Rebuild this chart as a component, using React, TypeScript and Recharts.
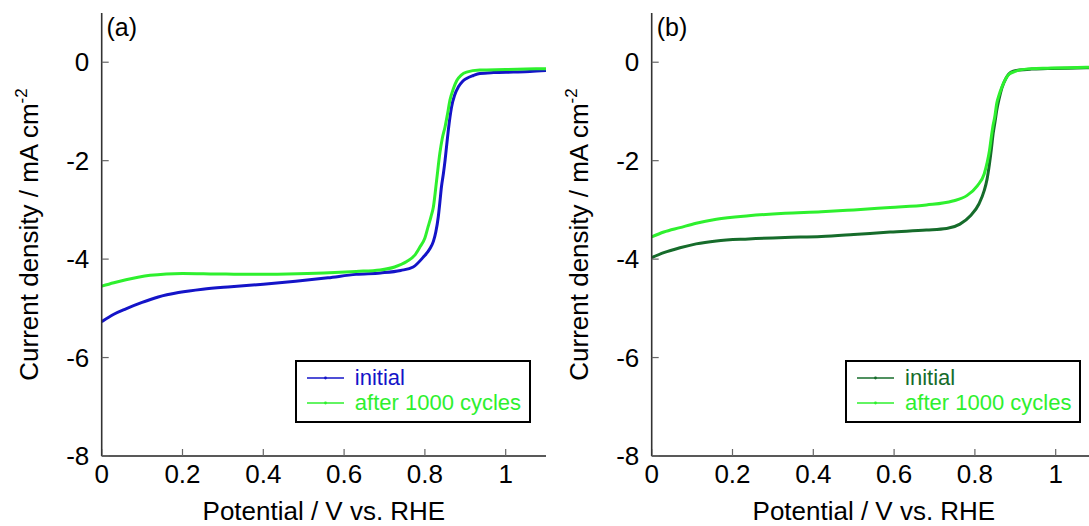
import React from 'react';
import { LineChart, Line, XAxis, YAxis, Legend } from 'recharts';

const FONT = '"Liberation Sans", Arial, Helvetica, sans-serif';

const xTicks = [0, 0.2, 0.4, 0.6, 0.8, 1];
const yTicks = [-8, -6, -4, -2, 0];
const xDomain: [number, number] = [0, 1.1];
const yDomain: [number, number] = [-8, 1];

const xTitle = 'Potential / V vs. RHE';
const yTitle = 'Current density / mA cm';
const yTitleSup = '-2';
const seriesNames = ['initial', 'after 1000 cycles'];
const panelTags = ['(a)', '(b)'];

// Panel (a) initial
const aInitialV = [0, 0.03, 0.06, 0.1, 0.14, 0.19, 0.25, 0.32, 0.4, 0.48, 0.56, 0.63, 0.69, 0.74, 0.771, 0.795, 0.813, 0.821, 0.827, 0.833, 0.837, 0.841, 0.846, 0.85, 0.854, 0.858, 0.862, 0.866, 0.874, 0.883, 0.893, 0.903, 0.92, 0.936, 0.97, 1.019, 1.06, 1.1];
const aInitialJ = [-5.27, -5.12, -5.01, -4.88, -4.77, -4.68, -4.61, -4.56, -4.51, -4.45, -4.38, -4.31, -4.28, -4.23, -4.16, -3.97, -3.78, -3.64, -3.45, -3.15, -2.85, -2.53, -2.25, -1.99, -1.68, -1.38, -1.12, -0.91, -0.66, -0.5, -0.39, -0.33, -0.27, -0.23, -0.21, -0.2, -0.19, -0.17];
// Panel (a) after 1000 cycles
const aAfterV = [0, 0.03, 0.06, 0.09, 0.12, 0.16, 0.2, 0.28, 0.37, 0.46, 0.55, 0.63, 0.689, 0.725, 0.755, 0.775, 0.788, 0.8, 0.808, 0.815, 0.821, 0.829, 0.837, 0.843, 0.85, 0.856, 0.862, 0.87, 0.879, 0.89, 0.903, 0.936, 1.0, 1.05, 1.1];
const aAfterJ = [-4.55, -4.48, -4.42, -4.37, -4.33, -4.3, -4.29, -4.3, -4.31, -4.3, -4.28, -4.25, -4.22, -4.16, -4.05, -3.92, -3.75, -3.57, -3.34, -3.14, -2.94, -2.4, -1.85, -1.55, -1.31, -1.05, -0.77, -0.55, -0.37, -0.26, -0.2, -0.16, -0.15, -0.14, -0.13];
// Panel (b) initial
const bInitialV = [0, 0.03, 0.07, 0.11, 0.16, 0.24, 0.33, 0.42, 0.5, 0.59, 0.68, 0.73, 0.763, 0.789, 0.81, 0.823, 0.83, 0.836, 0.841, 0.845, 0.85, 0.854, 0.86, 0.867, 0.876, 0.884, 0.895, 0.91, 0.94, 0.98, 1.03, 1.1];
const bInitialJ = [-3.97, -3.87, -3.77, -3.69, -3.63, -3.59, -3.56, -3.54, -3.5, -3.45, -3.41, -3.38, -3.29, -3.12, -2.88, -2.61, -2.38, -2.07, -1.75, -1.46, -1.2, -0.98, -0.74, -0.52, -0.34, -0.24, -0.18, -0.16, -0.14, -0.13, -0.12, -0.11];
// Panel (b) after 1000 cycles
const bAfterV = [0, 0.03, 0.07, 0.11, 0.16, 0.24, 0.33, 0.42, 0.5, 0.59, 0.68, 0.745, 0.78, 0.806, 0.823, 0.83, 0.836, 0.841, 0.845, 0.849, 0.854, 0.86, 0.867, 0.876, 0.884, 0.895, 0.91, 0.94, 0.98, 1.03, 1.1];
const bAfterJ = [-3.55, -3.45, -3.36, -3.27, -3.19, -3.12, -3.07, -3.04, -3.0, -2.95, -2.9, -2.82, -2.71, -2.51, -2.27, -2.05, -1.8, -1.5, -1.28, -1.12, -0.84, -0.66, -0.5, -0.34, -0.25, -0.2, -0.16, -0.13, -0.12, -0.11, -0.1];

const BLUE = '#1414c8';
const DARKGREEN = '#166c2b';
const LIGHTGREEN = '#2ef02e';

const zip = (v: number[], j: number[]) => v.map((x, i) => ({ v: x, j: j[i] }));

const XTitle = (props: any) => {
  const vb = props.viewBox || { x: 101.7, y: 456, width: 444.4, height: 70 };
  const cx = vb.x + vb.width / 2;
  return (
    <text x={cx} y={vb.y + 64} textAnchor="middle" fontSize={26} fontFamily={FONT} fill="#000">
      {xTitle}
    </text>
  );
};

const YTitle = (props: any) => {
  const vb = props.viewBox || { x: 0, y: 13, width: 101.7, height: 443 };
  const cx = vb.x + vb.width - 64;
  const cy = vb.y + vb.height / 2;
  return (
    <text x={cx} y={cy} transform={`rotate(-90 ${cx} ${cy})`} textAnchor="middle" fontSize={26} fontFamily={FONT} fill="#000">
      {yTitle}
      <tspan dy={-11} fontSize={17}>{yTitleSup}</tspan>
    </text>
  );
};

const LegendBox = ({ items }: { items: { name: string; color: string }[] }) => (
  <div
    style={{
      width: 236,
      height: 63,
      boxSizing: 'border-box',
      border: '2px solid #000',
      background: '#fff',
      position: 'relative',
      fontFamily: FONT,
    }}
  >
    {items.map((it, i) => (
      <div
        key={it.name}
        style={{
          position: 'absolute',
          left: 0,
          top: 4.3 + i * 24.4,
          height: 24,
          display: 'flex',
          alignItems: 'center',
          whiteSpace: 'nowrap',
        }}
      >
        <svg width={58} height={24} style={{ display: 'block' }}>
          <line x1={10} x2={47} y1={12} y2={12} stroke={it.color} strokeWidth={1.4} />
          <circle cx={28.5} cy={12} r={1.4} fill={it.color} />
        </svg>
        <span style={{ color: it.color, fontSize: 22, lineHeight: '24px' }}>{it.name}</span>
      </div>
    ))}
  </div>
);

type Series = { name: string; color: string; data: { v: number; j: number }[] };

const Panel = ({ left, tag, series }: { left: number; tag: string; series: Series[] }) => (
  <div style={{ position: 'absolute', left, top: 0, width: 546.1, height: 526 }}>
    <LineChart width={546.1} height={526} margin={{ top: 13, right: 0, bottom: 0, left: 0 }} style={{ fontFamily: FONT }}>
      <XAxis
        xAxisId="top"
        orientation="top"
        type="number"
        dataKey="v"
        domain={xDomain}
        allowDataOverflow
        height={0}
        tick={false}
        tickLine={false}
        axisLine={{ stroke: '#8a8a8a', strokeWidth: 2 }}
      />
      <YAxis
        yAxisId="right"
        orientation="right"
        type="number"
        domain={yDomain}
        allowDataOverflow
        width={0}
        tick={false}
        tickLine={false}
        axisLine={{ stroke: '#8a8a8a', strokeWidth: 2 }}
      />
      <XAxis
        type="number"
        dataKey="v"
        domain={xDomain}
        allowDataOverflow
        ticks={xTicks}
        interval={0}
        height={70}
        tickSize={-7}
        tickMargin={16}
        tick={{ fill: '#000', fontSize: 26, fontFamily: FONT }}
        tickLine={{ stroke: '#666', strokeWidth: 1.2 }}
        axisLine={{ stroke: '#222', strokeWidth: 1.6 }}
        label={(p: any) => <XTitle {...p} />}
      />
      <YAxis
        type="number"
        domain={yDomain}
        allowDataOverflow
        ticks={yTicks}
        interval={0}
        width={101.7}
        tickSize={-7}
        tickMargin={19.4}
        tick={{ fill: '#000', fontSize: 26, fontFamily: FONT }}
        tickLine={{ stroke: '#666', strokeWidth: 1.2 }}
        axisLine={{ stroke: '#333', strokeWidth: 1.6 }}
        label={(p: any) => <YTitle {...p} />}
      />
      {series.map((s) => (
        <Line
          key={s.name}
          data={s.data}
          dataKey="j"
          name={s.name}
          type="monotone"
          stroke={s.color}
          strokeWidth={3}
          dot={false}
          isAnimationActive={false}
        />
      ))}
      <Legend
        layout="horizontal"
        verticalAlign="middle"
        align="center"
        wrapperStyle={{ left: 294.8, top: 360, width: 236, height: 63 }}
        content={() => <LegendBox items={series.map((s) => ({ name: s.name, color: s.color }))} />}
      />
    </LineChart>
    <div
      style={{
        position: 'absolute',
        left: 106.5,
        top: 13,
        fontSize: 25,
        lineHeight: '28px',
        fontFamily: FONT,
        color: '#000',
        pointerEvents: 'none',
      }}
    >
      {tag}
    </div>
  </div>
);

export default function App() {
  const aSeries: Series[] = [
    { name: seriesNames[0], color: BLUE, data: zip(aInitialV, aInitialJ) },
    { name: seriesNames[1], color: LIGHTGREEN, data: zip(aAfterV, aAfterJ) },
  ];
  const bSeries: Series[] = [
    { name: seriesNames[0], color: DARKGREEN, data: zip(bInitialV, bInitialJ) },
    { name: seriesNames[1], color: LIGHTGREEN, data: zip(bAfterV, bAfterJ) },
  ];
  return (
    <div style={{ position: 'absolute', left: 0, top: 0, width: 1089, height: 526, overflow: 'hidden', background: '#fff' }}>
      <Panel left={0} tag={panelTags[0]} series={aSeries} />
      <Panel left={550.3} tag={panelTags[1]} series={bSeries} />
    </div>
  );
}
